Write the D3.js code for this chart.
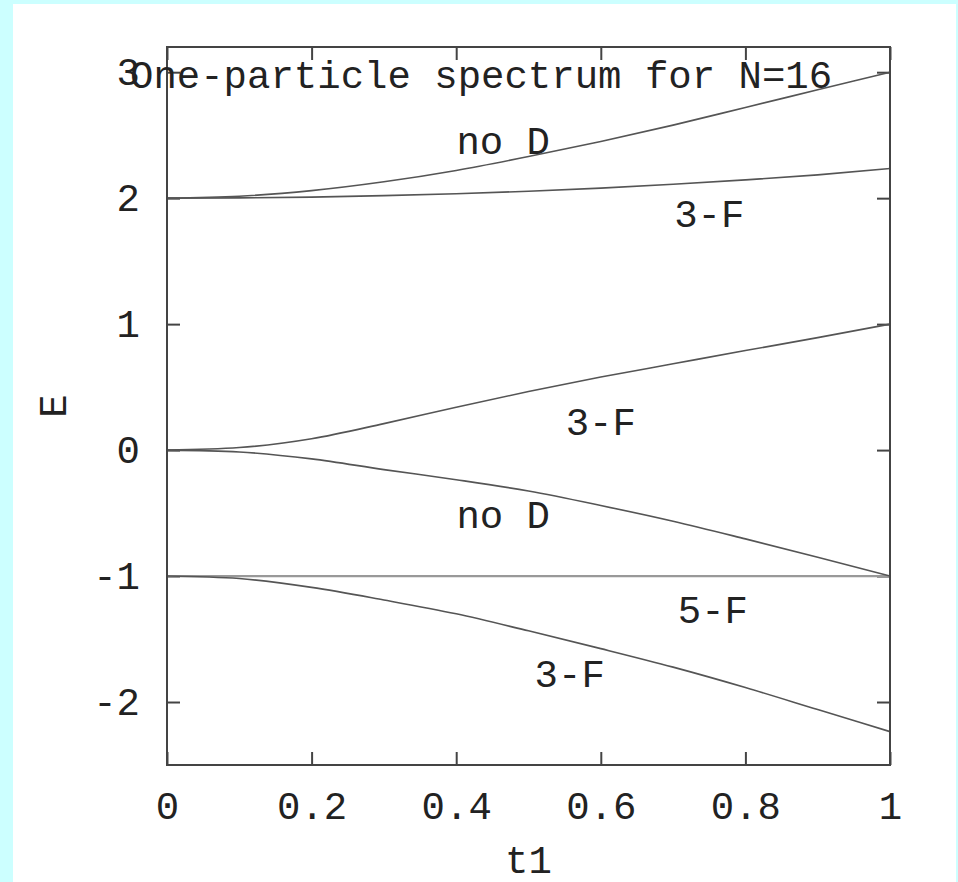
<!DOCTYPE html>
<html>
<head>
<meta charset="utf-8">
<script src="https://cdn.jsdelivr.net/npm/d3@7"></script>
<style>
  body { margin: 0; background: #ccffff; }
  svg text { font-family: "Liberation Mono", "Courier New", monospace; fill: #222; }
</style>
</head>
<body>
<div id="main"></div>
<script>
// t1 sample points
var tValues = [0, 0.1, 0.2, 0.3, 0.4, 0.5, 0.6, 0.7, 0.8, 0.9, 1.0];

// one-particle energies E(t1), one array per branch
var upperNoD = [2.0, 2.015, 2.06, 2.13, 2.22, 2.33, 2.45, 2.58, 2.72, 2.86, 3.0];
var upper3F  = [2.0, 2.002, 2.008, 2.02, 2.035, 2.055, 2.08, 2.11, 2.145, 2.185, 2.235];
var middle3F = [0, 0.02, 0.09, 0.21, 0.34, 0.465, 0.58, 0.685, 0.79, 0.893, 1.0];
var middleNoD = [0, -0.015, -0.07, -0.155, -0.235, -0.325, -0.44, -0.565, -0.705, -0.85, -1.0];
var flat5F   = [-1, -1, -1, -1, -1, -1, -1, -1, -1, -1, -1];
var lower3F  = [-1, -1.02, -1.09, -1.19, -1.30, -1.435, -1.576, -1.723, -1.885, -2.06, -2.235];

// tick values
var xTicks = [0, 0.2, 0.4, 0.6, 0.8, 1];
var yTicks = [-2, -1, 0, 1, 2, 3];

// curve labels: [t1, E, text]
var curveLabels = [
  [0.465, 2.35, "no D"],
  [0.75, 1.77, "3-F"],
  [0.60, 0.12, "3-F"],
  [0.465, -0.62, "no D"],
  [0.755, -1.37, "5-F"],
  [0.557, -1.88, "3-F"]
];

var ctx = {
    w: 958,
    h: 882,
    left: 167, right: 890, top: 47, bottom: 765,
    fs: 39
};

var createViz = function(){
    var svgEl = d3.select("#main").append("svg")
      .attr("width", ctx.w)
      .attr("height", ctx.h)
      .style("display", "block");

    // white panel over the cyan page
    svgEl.append("rect")
      .attr("x", 13).attr("y", 4)
      .attr("width", 943).attr("height", 878)
      .attr("fill", "#ffffff");

    ctx.xScale = d3.scaleLinear().domain([0, 1]).range([ctx.left, ctx.right]);
    ctx.yScale = d3.scaleLinear().domain([-2.5, 3.2]).range([ctx.bottom, ctx.top]);

    var g = svgEl.append("g");
    var fmt = function(d){ return String(d); };

    // axes, gnuplot style: inward ticks on all four sides
    var axL = g.append("g").attr("transform", `translate(${ctx.left},0)`)
      .call(d3.axisLeft(ctx.yScale).tickValues(yTicks).tickFormat(fmt).tickSize(-13).tickPadding(27));
    var axB = g.append("g").attr("transform", `translate(0,${ctx.bottom})`)
      .call(d3.axisBottom(ctx.xScale).tickValues(xTicks).tickFormat(fmt).tickSize(-13).tickPadding(26));
    var axR = g.append("g").attr("transform", `translate(${ctx.right},0)`)
      .call(d3.axisRight(ctx.yScale).tickValues(yTicks).tickSize(-13).tickFormat(""));
    var axT = g.append("g").attr("transform", `translate(0,${ctx.top})`)
      .call(d3.axisTop(ctx.xScale).tickValues(xTicks).tickSize(-13).tickFormat(""));

    [axL, axB, axR, axT].forEach(function(a){
        a.select(".domain").remove();
        a.selectAll("line").attr("stroke", "#444").attr("stroke-width", 2);
        a.selectAll("text")
          .style("font-family", "'Liberation Mono', 'Courier New', monospace")
          .style("font-size", ctx.fs + "px")
          .attr("fill", "#222");
    });

    // curves
    var series = [upperNoD, upper3F, middle3F, middleNoD, lower3F];
    var line = d3.line()
      .x(function(d, i){ return ctx.xScale(tValues[i]); })
      .y(function(d){ return ctx.yScale(d); })
      .curve(d3.curveMonotoneX);

    g.append("path")
      .attr("d", line(flat5F))
      .attr("fill", "none")
      .attr("stroke", "#999")
      .attr("stroke-width", 2.2);

    g.selectAll("path.curve")
      .data(series)
      .enter()
      .append("path")
      .classed("curve", true)
      .attr("d", function(d){ return line(d); })
      .attr("fill", "none")
      .attr("stroke", "#555")
      .attr("stroke-width", 1.6);

    // frame
    g.append("rect")
      .attr("x", ctx.left).attr("y", ctx.top)
      .attr("width", ctx.right - ctx.left)
      .attr("height", ctx.bottom - ctx.top)
      .attr("fill", "none")
      .attr("stroke", "#444")
      .attr("stroke-width", 2);

    // curve labels
    g.selectAll("text.clab")
      .data(curveLabels)
      .enter()
      .append("text")
      .classed("clab", true)
      .attr("x", function(d){ return ctx.xScale(d[0]); })
      .attr("y", function(d){ return ctx.yScale(d[1]); })
      .attr("text-anchor", "middle")
      .style("font-size", ctx.fs + "px")
      .text(function(d){ return d[2]; });

    // title (gnuplot label, overlaps the "3" like the original)
    g.append("text")
      .attr("x", 130)
      .attr("y", 88)
      .style("font-size", ctx.fs + "px")
      .text("One-particle spectrum for N=16");

    // axis titles
    g.append("text")
      .attr("x", (ctx.left + ctx.right) / 2)
      .attr("y", 873)
      .attr("text-anchor", "middle")
      .style("font-size", ctx.fs + "px")
      .text("t1");

    g.append("text")
      .attr("transform", `translate(66,${(ctx.top + ctx.bottom) / 2}) rotate(-90)`)
      .attr("text-anchor", "middle")
      .style("font-size", ctx.fs + "px")
      .text("E");
};

createViz();
</script>
</body>
</html>
